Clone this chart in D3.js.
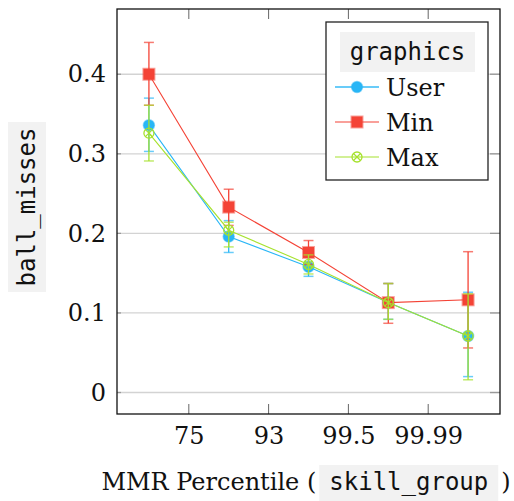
<!DOCTYPE html>
<html><head><meta charset="utf-8">
<script src="https://cdn.jsdelivr.net/npm/d3@7"></script>
<style>body{margin:0;background:#fff}</style>
</head><body><svg id="c" width="514" height="501"></svg>
<script>
const categories = ["0-75","75-93","93-99.5","99.5-99.99","99.99-100"];
const tickLabels = ["75","93","99.5","99.99"];
const yTicks = [0,0.1,0.2,0.3,0.4];
const seriesNames = ["User","Min","Max"];
const userMean = [0.336,0.196,0.158,0.113,0.071];
const userLo   = [0.303,0.176,0.146,0.092,0.020];
const userHi   = [0.370,0.216,0.170,0.137,0.126];
const minMean  = [0.400,0.233,0.176,0.113,0.1165];
const minLo    = [0.361,0.210,0.161,0.087,0.056];
const minHi    = [0.440,0.2555,0.191,0.137,0.177];
const maxMean  = [0.326,0.204,0.161,0.113,0.071];
const maxLo    = [0.291,0.183,0.149,0.092,0.016];
const maxHi    = [0.361,0.214,0.173,0.137,0.124];

const colors = {User:"#29b6f6", Min:"#f44336", Max:"#a6e22e"};
const series = [
  {name:"User", mean:userMean, lo:userLo, hi:userHi, marker:"circle"},
  {name:"Min",  mean:minMean,  lo:minLo,  hi:minHi,  marker:"square"},
  {name:"Max",  mean:maxMean,  lo:maxLo,  hi:maxHi,  marker:"otimes"}
];

const svg = d3.select("#c");
const L=117, R=500, T=9, B=414;
const x = d3.scaleLinear().domain([-0.4, categories.length-0.6]).range([L,R]);
const y = d3.scaleLinear().domain([-0.027,0.482]).range([B,T]);
const serif = "'DejaVu Serif', serif";
const mono = "'DejaVu Sans Mono', monospace";

// gridlines
svg.append("g").selectAll("line").data(yTicks).join("line")
  .attr("x1",L).attr("x2",R).attr("y1",d=>y(d)).attr("y2",d=>y(d))
  .attr("stroke","#d3d3d3").attr("stroke-width",1.3);
// y ticks (both sides, inward)
svg.append("g").selectAll("line").data(yTicks).join("line")
  .attr("x1",R-10).attr("x2",R).attr("y1",d=>y(d)).attr("y2",d=>y(d))
  .attr("stroke","#999").attr("stroke-width",1.3);
svg.append("g").selectAll("line").data(yTicks).join("line")
  .attr("x1",L).attr("x2",L+4).attr("y1",d=>y(d)).attr("y2",d=>y(d))
  .attr("stroke","#999").attr("stroke-width",1.3);
// x ticks (top and bottom, inward) at boundaries
const xt = tickLabels.map((t,i)=>i+0.5);
svg.append("g").selectAll("line").data(xt).join("line")
  .attr("x1",d=>x(d)).attr("x2",d=>x(d)).attr("y1",T).attr("y2",T+10)
  .attr("stroke","#666").attr("stroke-width",1);
svg.append("g").selectAll("line").data(xt).join("line")
  .attr("x1",d=>x(d)).attr("x2",d=>x(d)).attr("y1",B-10).attr("y2",B)
  .attr("stroke","#666").attr("stroke-width",1);

// axes labels via d3 axes
const yAxis = d3.axisLeft(y).tickValues(yTicks).tickSize(0).tickPadding(11)
  .tickFormat(d=> d===0 ? "0" : d3.format(".1f")(d));
const ga = svg.append("g").attr("transform",`translate(${L},0)`).call(yAxis);
ga.select(".domain").remove();
ga.selectAll("text").attr("font-family",serif).attr("font-size",24).attr("fill","#111");

const xAxis = d3.axisBottom(x).tickValues(xt).tickSize(0).tickPadding(13)
  .tickFormat((d,i)=>tickLabels[i]);
const gx = svg.append("g").attr("transform",`translate(0,${B})`).call(xAxis);
gx.select(".domain").remove();
gx.selectAll("text").attr("font-family",serif).attr("font-size",24).attr("fill","#111");

// series
const plot = svg.append("g");
function drawMarker(g, type, cx, cy, col){
  if(type==="circle"){
    g.append("circle").attr("cx",cx).attr("cy",cy).attr("r",5.5)
      .attr("fill",col).attr("stroke",col).attr("stroke-opacity",0.5).attr("stroke-width",1.5);
  } else if(type==="square"){
    g.append("rect").attr("x",cx-5.5).attr("y",cy-5.5).attr("width",11).attr("height",11)
      .attr("fill",col).attr("stroke",col).attr("stroke-opacity",0.5).attr("stroke-width",2);
  } else {
    g.append("circle").attr("cx",cx).attr("cy",cy).attr("r",5)
      .attr("fill","none").attr("stroke",col).attr("stroke-width",1.3);
    const k=5/Math.SQRT2;
    g.append("line").attr("x1",cx-k).attr("y1",cy-k).attr("x2",cx+k).attr("y2",cy+k)
      .attr("stroke",col).attr("stroke-width",1.2);
    g.append("line").attr("x1",cx-k).attr("y1",cy+k).attr("x2",cx+k).attr("y2",cy-k)
      .attr("stroke",col).attr("stroke-width",1.2);
  }
}
const line = d3.line().x((d,i)=>x(i)).y(d=>y(d));
series.forEach(s=>{
  const col = colors[s.name];
  const g = plot.append("g");
  // error bars
  s.mean.forEach((m,i)=>{
    const cx=x(i);
    g.append("line").attr("x1",cx).attr("x2",cx).attr("y1",y(s.lo[i])).attr("y2",y(s.hi[i]))
      .attr("stroke",col).attr("stroke-width",1.3);
    [s.lo[i], s.hi[i]].forEach(v=>{
      g.append("line").attr("x1",cx-5).attr("x2",cx+5).attr("y1",y(v)).attr("y2",y(v))
        .attr("stroke",col).attr("stroke-opacity",0.7).attr("stroke-width",1.5);
    });
  });
  g.append("path").datum(s.mean).attr("d",line).attr("fill","none")
    .attr("stroke",col).attr("stroke-width",1.1);
  s.mean.forEach((m,i)=> drawMarker(g, s.marker, x(i), y(m), col));
});

// frame
svg.append("rect").attr("x",L).attr("y",T).attr("width",R-L).attr("height",B-T)
  .attr("fill","none").attr("stroke","#111").attr("stroke-width",1.3);

// legend
const lg = svg.append("g");
lg.append("rect").attr("x",326).attr("y",22).attr("width",162).attr("height",158)
  .attr("fill","#fff").attr("stroke","#222").attr("stroke-width",1.3);
lg.append("rect").attr("x",340).attr("y",32).attr("width",135).attr("height",40).attr("fill","#f2f2f2");
lg.append("text").attr("x",407.5).attr("y",60).attr("text-anchor","middle")
  .attr("font-family",mono).attr("font-size",24).attr("fill","#111").text("graphics");
series.forEach((s,i)=>{
  const cy = 87 + i*35, col=colors[s.name];
  lg.append("line").attr("x1",335).attr("x2",379).attr("y1",cy).attr("y2",cy)
    .attr("stroke",col).attr("stroke-width",s.name==="User"?2:1.2).attr("stroke-opacity",s.name==="User"?0.7:1);
  drawMarker(lg, s.marker, 357, cy, col);
  lg.append("text").attr("x",386).attr("y",cy+8.5).attr("font-family",serif).attr("font-size",24)
    .attr("fill","#111").text(s.name);
});

// y label
const yl = svg.append("g").attr("transform","translate(27,207) rotate(-90)");
yl.append("rect").attr("x",-85).attr("y",-19).attr("width",170).attr("height",38).attr("fill","#f2f2f2");
yl.append("text").attr("x",0).attr("y",8).attr("text-anchor","middle")
  .attr("font-family",mono).attr("font-size",24).attr("fill","#111").text("ball_misses");

// x label
const xlY = 490;
const parts = [
  {t:"MMR Percentile (", f:serif, bg:false},
  {t:"skill_group", f:mono, bg:true},
  {t:")", f:serif, bg:false}
];
const xg = svg.append("g");
const texts = parts.map(p=> xg.append("text").attr("y",xlY).attr("font-family",p.f)
  .attr("font-size",24).attr("fill","#111").text(p.t));
const pad = 10;
const widths = texts.map((t,i)=> t.node().getComputedTextLength() + (parts[i].bg?2*pad:0));
const gap = 3;
const total = widths.reduce((a,b)=>a+b,0) + gap*2;
let cx = 306 - total/2;
texts.forEach((t,i)=>{
  if(parts[i].bg){
    xg.insert("rect","text").attr("x",cx).attr("y",465).attr("width",widths[i]).attr("height",36).attr("fill","#f2f2f2");
    t.attr("x",cx+pad);
  } else t.attr("x",cx);
  cx += widths[i] + gap;
});
</script></body></html>
